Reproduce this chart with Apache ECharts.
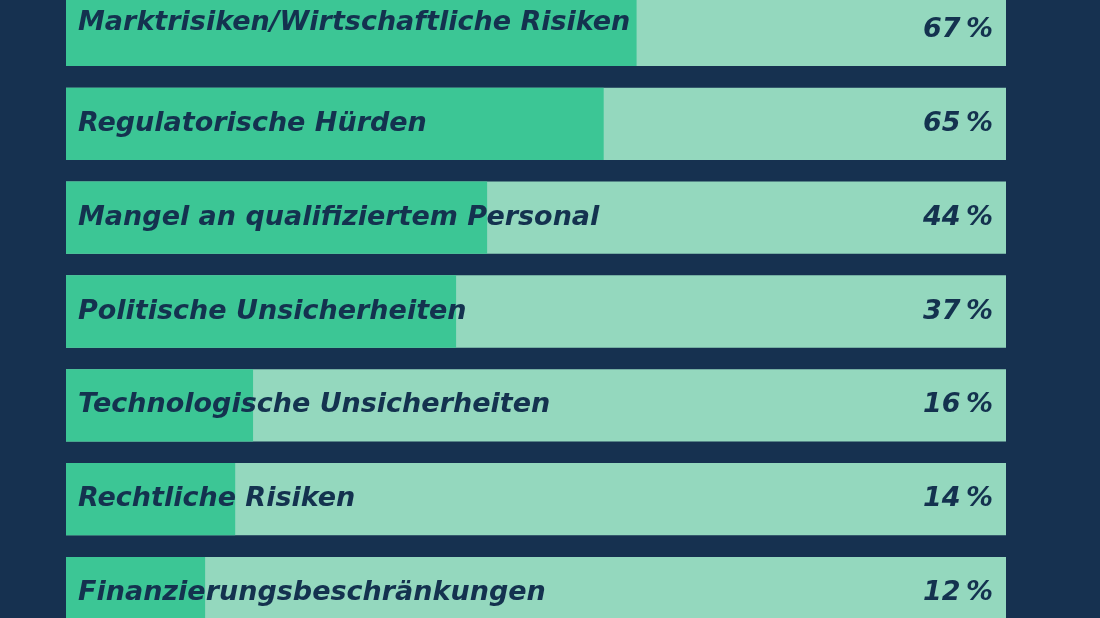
<!DOCTYPE html>
<html>
<head>
<meta charset="utf-8">
<script src="https://cdn.jsdelivr.net/npm/echarts@6/dist/echarts.min.js"></script>
<style>
  html, body { margin: 0; padding: 0; background: #163150; }
  #chart { width: 1100px; height: 618px; }
</style>
</head>
<body>
<div id="chart"></div>
<script>
// categories, top to bottom
const categories = [
  'Marktrisiken/Wirtschaftliche Risiken',
  'Regulatorische Hürden',
  'Mangel an qualifiziertem Personal',
  'Politische Unsicherheiten',
  'Technologische Unsicherheiten',
  'Rechtliche Risiken',
  'Finanzierungsbeschränkungen'
];
// printed shares (%)
const shares = [67, 65, 44, 37, 16, 14, 12];
const fillShown = [60.7, 57.2, 44.8, 41.5, 19.9, 18.0, 14.8];
const trackMax = 100;

const navy = '#163150';
const textNavy = '#14324f';
const labelFont = {
  color: textNavy,
  fontFamily: 'DejaVu Sans',
  fontStyle: 'italic',
  fontWeight: 'bold',
  fontSize: 27
};

let chart = echarts.init(document.getElementById('chart'));
chart.setOption({
  backgroundColor: navy,
  animation: false,
  grid: { left: 66, right: 94, top: -17, height: 657, outerBoundsMode: 'none', containLabel: false },
  xAxis: { type: 'value', min: 0, max: trackMax, show: false },
  yAxis: {
    type: 'category',
    data: categories,
    inverse: true,
    show: false
  },
  series: [
    {
      // light track with the percentage on the right
      type: 'bar',
      barCategoryGap: '23%',
      data: shares.map(() => trackMax),
      itemStyle: { color: '#94d8be' },
      label: Object.assign({
        show: true,
        position: 'insideRight',
        distance: 13,
        formatter: p => shares[p.dataIndex] + '\u2009%'
      }, labelFont)
    },
    {
      // green fill with the category name
      type: 'bar',
      barGap: '-100%',
      barCategoryGap: '23%',
      data: fillShown.map((v, i) => i === 0
        ? { value: v, label: { offset: [0, -7] } }
        : v),
      itemStyle: { color: '#3cc695' },
      label: Object.assign({
        show: true,
        position: 'insideLeft',
        distance: 12,
        formatter: p => categories[p.dataIndex]
      }, labelFont)
    }
  ]
});
</script>
</body>
</html>
